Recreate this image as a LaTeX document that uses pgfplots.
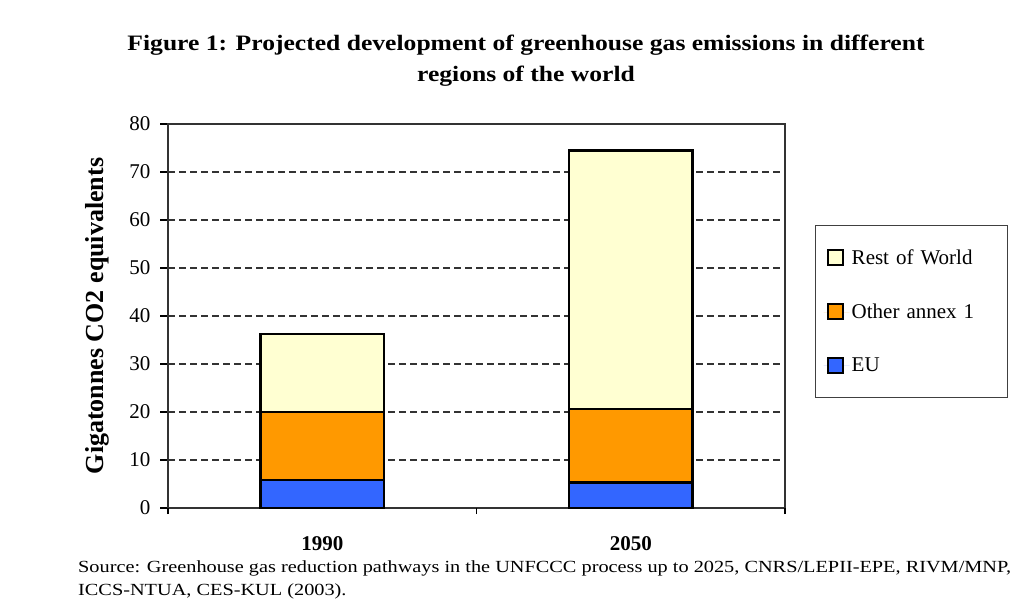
\documentclass[border=0pt]{standalone}
\usepackage{pgfplots}
\pgfplotsset{compat=1.18}
\usepackage{graphicx}
\usepackage{fontspec}
\setmainfont{Liberation Serif}

\definecolor{euBlue}{HTML}{3366FF}
\definecolor{annexOrange}{HTML}{FF9900}
\definecolor{rowYellow}{HTML}{FFFFD2}

\begin{document}
\begin{tikzpicture}[x=1pt,y=1pt]
  \path[use as bounding box] (0,0) rectangle (1011,605);

  \begin{axis}[
    at={(168pt,97pt)}, anchor=south west,
    scale only axis, width=617pt, height=384pt,
    ybar stacked, bar width=0.40,
    xmin=-0.5, xmax=1.5, ymin=0, ymax=80,
    xtick={0,1}, xticklabels={1990,2050},
    major x tick style={draw=none},
    extra x ticks={-0.5,0.5,1.5},
    extra x tick labels={},
    extra x tick style={major tick length=6pt, tick align=outside,
      major x tick style={draw=black, line width=1.2pt}},
    xtick pos=bottom,
    xticklabel style={font=\fontsize{21}{23}\selectfont\bfseries, yshift=-17pt},
    ytick={0,10,...,80}, ytick pos=left,
    tick align=outside, major tick length=8pt,
    tick style={black, line width=1.2pt},
    yticklabel style={font=\fontsize{21}{23}\selectfont, xshift=-6pt},
    /pgf/number format/assume math mode=true,
    ymajorgrids,
    grid style={black!80, line width=1.5pt, dash pattern=on 7pt off 4pt},
    axis line style={black!80, line width=1.3pt},
    ylabel={\bfseries Gigatonnes CO2 equivalents},
    every axis y label/.style={at={(axis description cs:-0.115,0.5)},
      rotate=90, anchor=center, font=\fontsize{26}{28}\selectfont},
    reverse legend,
    legend style={at={(1.0486,0.737)}, anchor=north west,
      draw=black!75, line width=1.5pt,
      font=\fontsize{21}{23}\selectfont,
      inner xsep=8pt, inner ysep=22pt, row sep=34pt,
      text width=146pt},
    legend cell align=left,
    legend image code/.code={
      \path[draw=none] (0pt,0pt) -- (26pt,0pt);
      \draw[#1, draw=black, line width=1.8pt] (4pt,-7pt) rectangle (19pt,8pt);},
  ]
    \addplot[fill=euBlue, draw=black, line width=2.4pt] coordinates {(0,5.8) (1,5.3)};
    \addplot[fill=annexOrange, draw=black, line width=2.4pt] coordinates {(0,14.2) (1,15.3)};
    \addplot[fill=rowYellow, draw=black, line width=2.4pt] coordinates {(0,16.2) (1,53.9)};
    \legend{EU, Other annex 1, Rest of World}
  \end{axis}

  % title
  \node at (526,545) {\resizebox{797pt}{\height}{\fontsize{22}{31}\selectfont\bfseries
    \begin{tabular}{@{}c@{}}
      Figure 1: Projected development of greenhouse gas emissions in different\\
      regions of the world
    \end{tabular}}};

  % source
  \node[anchor=north west, inner sep=0pt] at (78,49) {\resizebox{933pt}{\height}{\fontsize{17}{23}\selectfont
    \begin{tabular}{@{}l@{}}
      Source: Greenhouse gas reduction pathways in the UNFCCC process up to 2025, CNRS/LEPII-EPE, RIVM/MNP,\\
      ICCS-NTUA, CES-KUL (2003).
    \end{tabular}}};
\end{tikzpicture}
\end{document}
